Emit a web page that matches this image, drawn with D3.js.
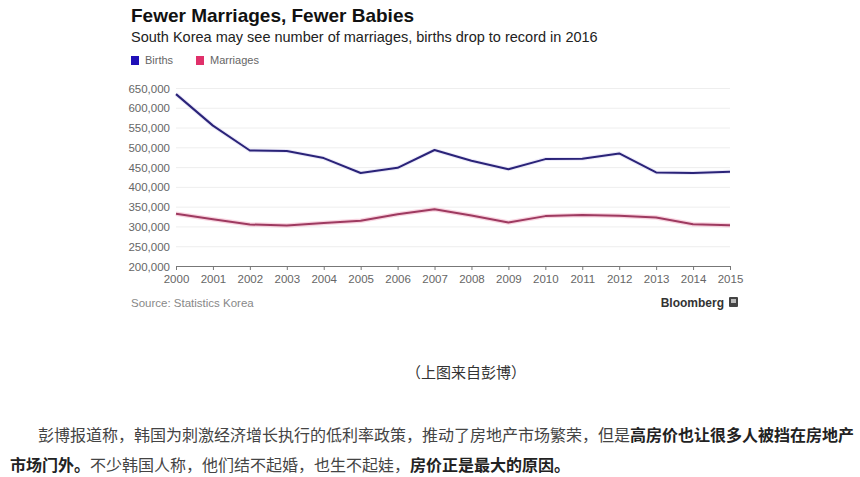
<!DOCTYPE html>
<html>
<head>
<meta charset="utf-8" />
<title>Fewer Marriages, Fewer Babies</title>
<script src="https://d3js.org/d3.v7.min.js"></script>
<style>
  body { margin: 0; background: #fff; }
  .title { font-family: "Liberation Sans", Arial, sans-serif; font-weight: bold; font-size: 19px; fill: #111; }
  .subtitle { font-family: "Liberation Sans", Arial, sans-serif; font-size: 14.5px; fill: #222; }
  .legend text { font-family: "Liberation Sans", Arial, sans-serif; font-size: 11px; fill: #666; }
  .axis text { font-family: "Liberation Sans", Arial, sans-serif; font-size: 11.5px; fill: #666; }
  .axis path, .axis line { stroke: #777; }
  .grid line { stroke: #eee; }
  .grid path { display: none; }
  .source { font-family: "Liberation Sans", Arial, sans-serif; font-size: 11.5px; fill: #888; }
  .brand { font-family: "Liberation Sans", Arial, sans-serif; font-size: 12px; font-weight: bold; fill: #333; }
  .cn { font-family: "Noto Sans CJK SC", sans-serif; fill: #333; }
</style>
</head>
<body>
<div id="chart"></div>
<script>
const years = d3.range(2000, 2016);
const births = [634500, 554900, 492100, 490500, 472800, 435000, 448200, 493200, 465900, 444800, 470200, 471300, 484600, 436500, 435400, 438400];
const marriages = [332100, 318400, 304900, 302500, 308600, 314300, 330600, 343600, 327700, 309800, 326100, 329100, 327100, 322800, 305500, 302800];
const yTicks = [200000, 250000, 300000, 350000, 400000, 450000, 500000, 550000, 600000, 650000];
const seriesNames = ["Births", "Marriages"];
const seriesColors = ["#2a2378", "#9e3a60"];
const legendColors = ["#2010b8", "#e0306a"];

const width = 860, height = 477;
const svg = d3.select("#chart").append("svg").attr("width", width).attr("height", height);

svg.append("text").attr("class", "title").attr("x", 131).attr("y", 22).text("Fewer Marriages, Fewer Babies");
svg.append("text").attr("class", "subtitle").attr("x", 131).attr("y", 42)
  .text("South Korea may see number of marriages, births drop to record in 2016");

// legend
const legend = svg.append("g").attr("class", "legend");
const legendX = [131, 196];
seriesNames.forEach((name, i) => {
  legend.append("rect").attr("x", legendX[i]).attr("y", 56).attr("width", 8).attr("height", 9).attr("fill", legendColors[i]);
  legend.append("text").attr("x", legendX[i] + 14).attr("y", 64).text(name);
});

const x = d3.scaleLinear().domain([2000, 2015]).range([176, 730]);
const y = d3.scaleLinear().domain([200000, 650000]).range([266, 88]);

// grid
svg.append("g").attr("class", "grid")
  .attr("transform", "translate(176,0)")
  .call(d3.axisLeft(y).tickValues(yTicks.slice(1)).tickSize(-554).tickFormat(""));

// y axis labels
const yAxis = svg.append("g").attr("class", "axis").attr("transform", "translate(173,0)")
  .call(d3.axisLeft(y).tickValues(yTicks).tickSize(0).tickFormat(d3.format(",")));
yAxis.select(".domain").remove();
yAxis.selectAll("text").attr("dx", 0).attr("dy", "0.35em");

// x axis
const xAxis = svg.append("g").attr("class", "axis").attr("transform", "translate(0,266)")
  .call(d3.axisBottom(x).tickValues(years).tickFormat(d3.format("d")).tickSize(4).tickSizeOuter(0));
xAxis.selectAll("text").attr("dy", "0.9em");

const line = d3.line().x((d, i) => x(years[i])).y(d => y(d));

// faint halo under the lines
svg.append("path").datum(marriages).attr("d", line).attr("fill", "none")
  .attr("stroke", "#f4b8cc").attr("stroke-width", 4.5).attr("stroke-opacity", 0.6);
svg.append("path").datum(births).attr("d", line).attr("fill", "none")
  .attr("stroke", "#d8d4f4").attr("stroke-width", 4).attr("stroke-opacity", 0.5);

[births, marriages].forEach((s, i) => {
  svg.append("path").datum(s).attr("d", line).attr("fill", "none")
    .attr("stroke", seriesColors[i]).attr("stroke-width", 2).attr("stroke-linejoin", "round");
});

svg.append("text").attr("class", "source").attr("x", 131).attr("y", 307).text("Source: Statistics Korea");
svg.append("text").attr("class", "brand").attr("x", 724).attr("y", 307).attr("text-anchor", "end").text("Bloomberg");
svg.append("rect").attr("x", 729).attr("y", 297).attr("width", 9).attr("height", 10).attr("rx", 1).attr("fill", "#444");
svg.append("rect").attr("x", 731).attr("y", 299).attr("width", 5).attr("height", 4).attr("fill", "#bbb");

// caption and article text
svg.append("text").attr("class", "cn").attr("x", 466).attr("y", 378).attr("text-anchor", "middle")
  .attr("font-size", 15).text("（上图来自彭博）");

const line1 = [["彭博报道称，韩国为刺激经济增长执行的低利率政策，推动了房地产市场繁荣，但是", false], ["高房价也让很多人被挡在房地产", true]];
const line2 = [["市场门外。", true], ["不少韩国人称，他们结不起婚，也生不起娃，", false], ["房价正是最大的原因。", true]];

function para(parts, x0, yb) {
  const t = svg.append("text").attr("class", "cn").attr("x", x0).attr("y", yb).attr("font-size", 16);
  parts.forEach(p => t.append("tspan").attr("font-weight", p[1] ? "bold" : "normal").attr("fill", p[1] ? "#222" : "#444").text(p[0]));
}
para(line1, 38, 441);
para(line2, 10, 471);
</script>
</body>
</html>
